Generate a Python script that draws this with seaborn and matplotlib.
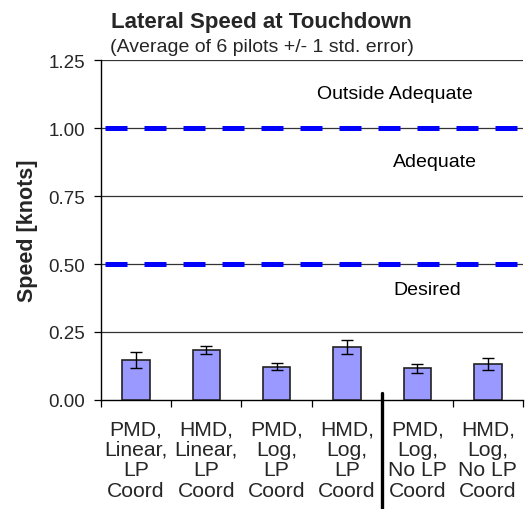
import matplotlib
matplotlib.use("Agg")
import matplotlib.pyplot as plt
import matplotlib.transforms as mtransforms
import seaborn as sns
import pandas as pd
import numpy as np

categories = ["PMD,\nLinear,\nLP\nCoord", "HMD,\nLinear,\nLP\nCoord",
              "PMD,\nLog,\nLP\nCoord", "HMD,\nLog,\nLP\nCoord",
              "PMD,\nLog,\nNo LP\nCoord", "HMD,\nLog,\nNo LP\nCoord"]
speed = [0.147, 0.184, 0.122, 0.194, 0.116, 0.132]
std_err = [0.028, 0.016, 0.013, 0.025, 0.017, 0.021]
y_ticks = [0.00, 0.25, 0.50, 0.75, 1.00, 1.25]
limit_lines = [0.5, 1.0]
zone_labels = ["Outside Adequate", "Adequate", "Desired"]
zone_label_y = [1.109, 0.860, 0.390]

sns.set_style("white")
plt.rcParams['font.family'] = ['Liberation Sans', 'DejaVu Sans']

df = pd.DataFrame({"cat": categories, "speed": speed})

fig = plt.figure(figsize=(5.25, 5.10), dpi=100)
ax = fig.add_axes([100.7/525, 1-401/510, (523-100.7)/525, (401-61)/510])

sns.barplot(data=df, x="cat", y="speed", ax=ax, color="#9999FF", saturation=1,
            width=0.39, edgecolor="#222222", linewidth=1.2, zorder=3)
xs = np.arange(len(categories))
ax.errorbar(xs, speed, yerr=std_err, fmt="none", ecolor="black",
            elinewidth=1.0, capsize=4, capthick=1.0, zorder=4)

ax.set_ylim(0, 1.25)
ax.set_xlim(-0.5, len(categories) - 0.5)
ax.set_yticks(y_ticks)
ax.set_yticklabels([f"{v:.2f}" for v in y_ticks])
for v in y_ticks[1:]:
    ax.axhline(v, color="#333333", lw=0.9, zorder=1)

for v in limit_lines:
    ax.axhline(v, xmin=0.009, xmax=1, color="#0000FF", lw=3.6,
               dashes=(4.4, 3.4), zorder=2)

x_text = [(317-100.7)/70.4 - 0.5, (393-100.7)/70.4 - 0.5, (393-100.7)/70.4 - 0.5]
for lab, yv, xv in zip(zone_labels, zone_label_y, x_text):
    ax.text(xv, yv, lab, fontsize=14, ha="left", va="baseline", color="black")

ax.set_xlabel("")
ax.set_ylabel("Speed [knots]", fontsize=15.5, fontweight="bold", labelpad=8)
ax.tick_params(axis="y", labelsize=13.5, length=5, width=0.9, direction="out",
               pad=6, left=True, color="black")
ax.set_xticks(xs)
ax.set_xticklabels(categories, fontsize=15.2, linespacing=1.1)
ax.tick_params(axis="x", which="major", length=0, pad=14)
ax.set_xticks(np.arange(-0.5, len(categories)), minor=True)
ax.tick_params(axis="x", which="minor", length=5, width=0.9, direction="out",
               bottom=True, color="black")

for s in ["top", "right"]:
    ax.spines[s].set_visible(False)
for s in ["left", "bottom"]:
    ax.spines[s].set_visible(True)
    ax.spines[s].set_color("black")
    ax.spines[s].set_linewidth(1.0)

trans = mtransforms.blended_transform_factory(ax.transData, fig.transFigure)
ax.plot([3.5, 3.5], [1-394/510, 0.0], transform=trans, color="black",
        lw=2.4, clip_on=False, zorder=5)

fig.text(261/525, 1-28/510, "Lateral Speed at Touchdown", fontsize=16,
         fontweight="bold", ha="center", va="baseline")
fig.text(261.5/525, 1-52/510, "(Average of 6 pilots +/- 1 std. error)",
         fontsize=14, ha="center", va="baseline")

fig.savefig("out.png", dpi=100)
